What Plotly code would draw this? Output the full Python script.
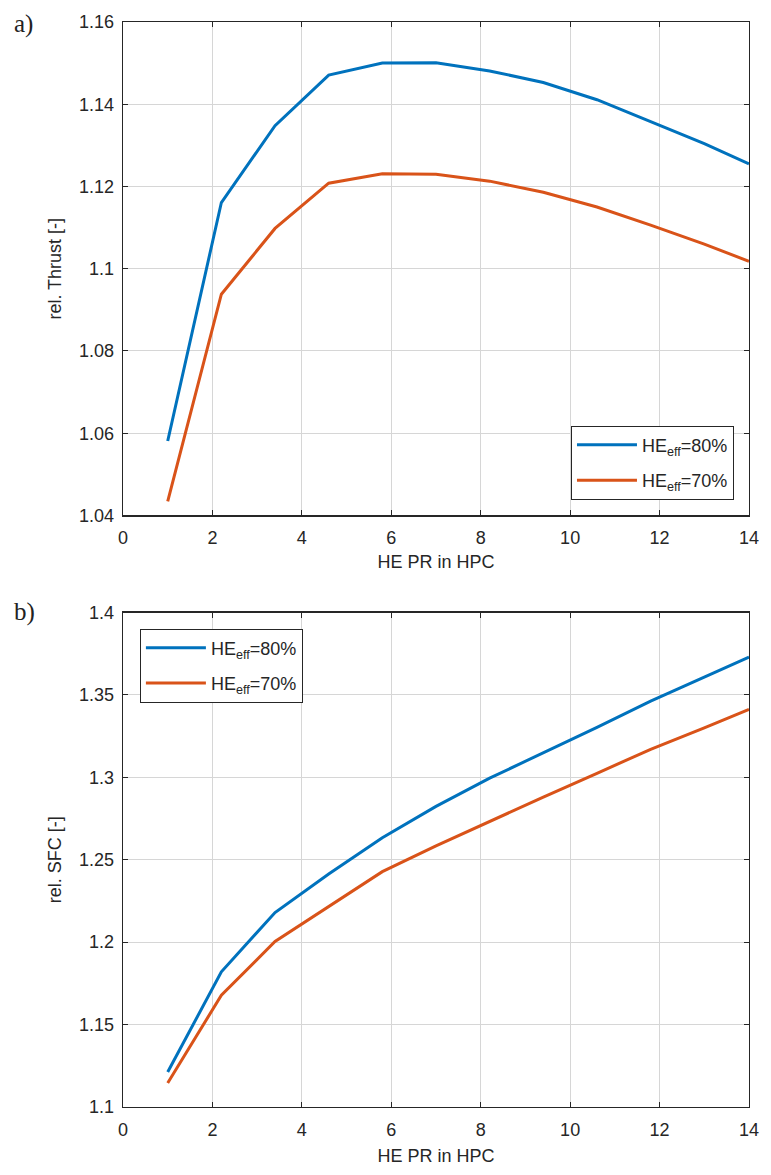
import plotly.graph_objects as go

# ---------------- data ----------------
he_pr = [1.0, 2.2, 3.4, 4.6, 5.8, 7.0, 8.2, 9.4, 10.6, 11.8, 13.0, 14.0]

thrust_80 = [1.0581, 1.1161, 1.1348, 1.1471, 1.1500, 1.1501, 1.1481, 1.1453,
             1.1411, 1.1357, 1.1304, 1.1255]
thrust_70 = [1.0434, 1.0938, 1.1098, 1.1208, 1.1231, 1.1230, 1.1213, 1.1186,
             1.1150, 1.1106, 1.1060, 1.1018]

sfc_80 = [1.1212, 1.1820, 1.2180, 1.2414, 1.2634, 1.2824, 1.2995, 1.3147,
          1.3304, 1.3463, 1.3610, 1.3730]
sfc_70 = [1.1146, 1.1678, 1.2004, 1.2215, 1.2428, 1.2585, 1.2735, 1.2880,
          1.3025, 1.3170, 1.3300, 1.3412]

series_names = ["HE<sub>eff</sub>=80%", "HE<sub>eff</sub>=70%"]
series_colors = ["#0072BD", "#D95319"]

x_ticks = [0, 2, 4, 6, 8, 10, 12, 14]
thrust_ticks = [1.04, 1.06, 1.08, 1.10, 1.12, 1.14, 1.16]
thrust_ticktext = ["1.04", "1.06", "1.08", "1.1", "1.12", "1.14", "1.16"]
sfc_ticks = [1.10, 1.15, 1.20, 1.25, 1.30, 1.35, 1.40]
sfc_ticktext = ["1.1", "1.15", "1.2", "1.25", "1.3", "1.35", "1.4"]

x_title = "HE PR in HPC"
thrust_title = "rel. Thrust [-]"
sfc_title = "rel. SFC [-]"
panel_labels = ["a)", "b)"]

# ---------------- figure ----------------
W, H = 771, 1175
fig = go.Figure()

for i, (ys, name) in enumerate(zip([thrust_80, thrust_70], series_names)):
    fig.add_trace(go.Scatter(x=he_pr, y=ys, mode="lines", name=name,
                             line=dict(color=series_colors[i], width=3),
                             xaxis="x", yaxis="y", legend="legend",
                             legendgroup="t%d" % i))
for i, (ys, name) in enumerate(zip([sfc_80, sfc_70], series_names)):
    fig.add_trace(go.Scatter(x=he_pr, y=ys, mode="lines", name=name,
                             line=dict(color=series_colors[i], width=3),
                             xaxis="x2", yaxis="y2", legend="legend2",
                             legendgroup="s%d" % i))

font_family = "Liberation Sans, Arial, sans-serif"
axis_col = "#262626"
grid_col = "#d6d6d6"

common_axis = dict(
    showline=True, linecolor=axis_col, linewidth=1.4, mirror="ticks",
    ticks="inside", ticklen=5, tickcolor=axis_col, tickwidth=1,
    showgrid=True, gridcolor=grid_col, gridwidth=1, zeroline=False,
    tickfont=dict(family=font_family, size=18, color="#262626"),
)

top_dom = [0.5452, 1.0]
bot_dom = [0.0, 0.4557]

legend_common = dict(
    bgcolor="white", bordercolor=axis_col, borderwidth=1,
    font=dict(family=font_family, size=18, color="#262626"),
    traceorder="grouped", tracegroupgap=9, itemwidth=60,
)

serif = dict(family="Liberation Serif, Times New Roman, serif",
             size=25, color="#222222")

fig.update_layout(
    width=W, height=H,
    margin=dict(l=123, r=16, t=19, b=61),
    paper_bgcolor="white", plot_bgcolor="white",
    font=dict(family=font_family, size=18, color="#262626"),
    showlegend=True,
    hovermode=False,
    xaxis=dict(common_axis, domain=[0, 1], range=[0, 14], tickvals=x_ticks,
               anchor="y", ticklabelstandoff=6, ticklabeloverflow="allow",
               title=dict(text=x_title, standoff=8,
                          font=dict(family=font_family, size=18))),
    yaxis=dict(common_axis, domain=top_dom, range=[1.04, 1.16],
               tickvals=thrust_ticks, ticktext=thrust_ticktext, anchor="x",
               ticklabelstandoff=4,
               title=dict(text=thrust_title, standoff=12,
                          font=dict(family=font_family, size=18))),
    xaxis2=dict(common_axis, domain=[0, 1], range=[0, 14], tickvals=x_ticks,
                anchor="y2", ticklabelstandoff=6, ticklabeloverflow="allow",
                title=dict(text=x_title, standoff=10,
                           font=dict(family=font_family, size=18))),
    yaxis2=dict(common_axis, domain=bot_dom, range=[1.1, 1.4],
                tickvals=sfc_ticks, ticktext=sfc_ticktext, anchor="x2",
                ticklabelstandoff=4,
                title=dict(text=sfc_title, standoff=12,
                           font=dict(family=font_family, size=18))),
    legend=dict(legend_common, x=0.976, y=0.5598,
                xanchor="right", yanchor="bottom"),
    legend2=dict(legend_common, x=0.027, y=0.441,
                 xanchor="left", yanchor="top"),
    annotations=[
        dict(text=panel_labels[0], xref="paper", yref="paper", x=-0.178,
             y=0.998, xanchor="left", yanchor="middle", showarrow=False,
             font=serif),
        dict(text=panel_labels[1], xref="paper", yref="paper", x=-0.178,
             y=0.456, xanchor="left", yanchor="middle", showarrow=False,
             font=serif),
    ],
)

# remove the browser's default 8px body margin so the figure fills the window
fig.write_html(
    "out.html",
    config={"displayModeBar": False, "staticPlot": True},
    post_script="document.body.style.margin='0';"
                "document.documentElement.style.overflow='hidden';",
)
